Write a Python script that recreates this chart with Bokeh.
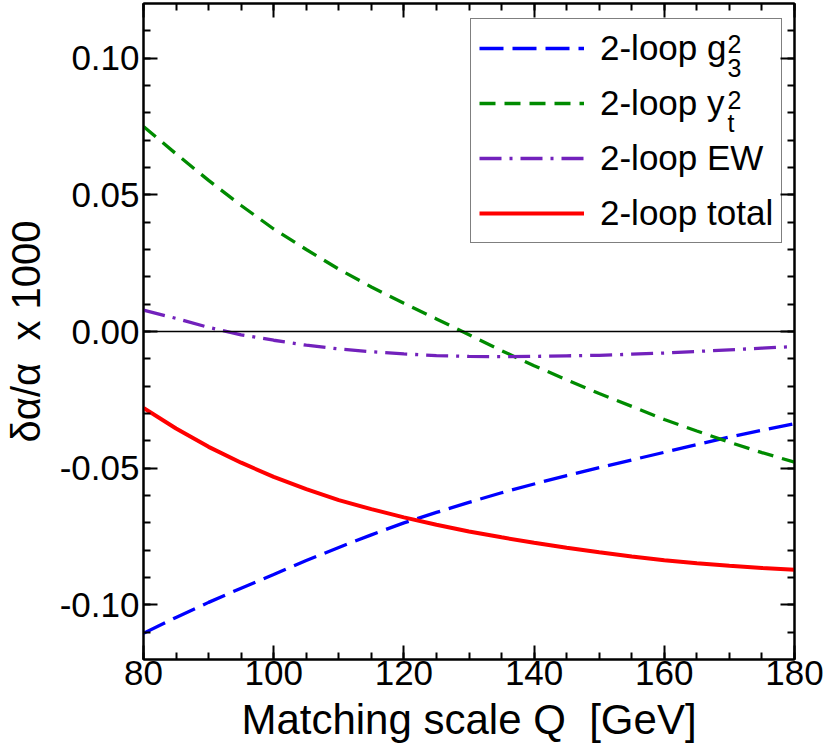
from bokeh.plotting import figure
from bokeh.models import (Range1d, LinearAxis, SingleIntervalTicker, NumeralTickFormatter,
                          CustomJSTickFormatter, Span, Legend, LegendItem, Label)
from bokeh.embed import file_html
from bokeh.resources import INLINE

# ---- data ----
Q = [80, 85, 90, 95, 100, 105, 110, 115, 120, 125, 130,
     135, 140, 145, 150, 155, 160, 165, 170, 175, 180]
g3_sq = [-0.1104, -0.1046, -0.0991, -0.0939, -0.0889, -0.0838, -0.0790, -0.0744, -0.0700, -0.0662, -0.0625,
         -0.0590, -0.0558, -0.0527, -0.0498, -0.0470, -0.0442, -0.0414, -0.0386, -0.0361, -0.0337]
yt_sq = [0.0750, 0.0650, 0.0553, 0.0461, 0.0375, 0.0300, 0.0228, 0.0163, 0.0103, 0.0046, -0.0012,
         -0.0070, -0.0125, -0.0177, -0.0227, -0.0274, -0.0322, -0.0364, -0.0405, -0.0443, -0.0478]
ew = [0.0078, 0.0048, 0.0015, -0.0012, -0.0032, -0.0050, -0.0064, -0.0074, -0.0082, -0.0088, -0.0091,
      -0.0092, -0.0091, -0.0089, -0.0087, -0.0083, -0.0079, -0.0073, -0.0067, -0.0061, -0.0055]
total = [-0.0280, -0.0355, -0.0422, -0.0480, -0.0532, -0.0577, -0.0617, -0.0650, -0.0680, -0.0707, -0.0732,
         -0.0753, -0.0773, -0.0791, -0.0808, -0.0823, -0.0837, -0.0848, -0.0857, -0.0865, -0.0872]

legend_labels = ["2-loop g", "2-loop y", "2-loop EW", "2-loop total"]
x_label = "Matching scale Q\u00a0 [GeV]"
y_label = "\u03b4\u03b1/\u03b1\u00a0 x 1000"

FONT = "Liberation Sans"

p = figure(width=830, height=752, output_backend="svg", toolbar_location=None,
           x_range=Range1d(80, 180), y_range=Range1d(-0.12, 0.12),
           min_border_left=142, min_border_right=36, min_border_top=3, min_border_bottom=93)
p.grid.visible = False
p.outline_line_color = "black"
p.outline_line_width = 2
p.background_fill_color = "white"
p.border_fill_color = "white"

xt = SingleIntervalTicker(interval=20, num_minor_ticks=4)
yt = SingleIntervalTicker(interval=0.05, num_minor_ticks=5)


def style_axis(ax, labels=True):
    ax.axis_line_width = 2
    ax.axis_line_color = "black"
    ax.major_tick_in = 14
    ax.major_tick_out = 0
    ax.minor_tick_in = 7
    ax.minor_tick_out = 0
    ax.major_tick_line_width = 2
    ax.minor_tick_line_width = 2
    ax.major_label_text_font = FONT
    ax.major_label_text_color = "black"
    if labels:
        ax.major_label_text_font_size = "35px"
    else:
        ax.formatter = CustomJSTickFormatter(code="return ''")
        ax.major_label_text_font_size = "0px"
        ax.major_label_standoff = 0


p.xaxis.ticker = xt
p.yaxis.ticker = yt
p.yaxis.formatter = NumeralTickFormatter(format="0.00")
style_axis(p.xaxis[0])
style_axis(p.yaxis[0])
p.xaxis.major_label_standoff = 1
p.yaxis.major_label_standoff = 4

p.xaxis.axis_label = x_label
p.xaxis.axis_label_text_font_size = "42px"
p.xaxis.axis_label_standoff = 8
p.yaxis.axis_label = y_label
p.yaxis.axis_label_text_font_size = "40px"
p.yaxis.axis_label_standoff = 9
for ax in (p.xaxis[0], p.yaxis[0]):
    ax.axis_label_text_font = FONT
    ax.axis_label_text_font_style = "normal"
    ax.axis_label_text_color = "black"

top_ax = LinearAxis(ticker=xt)
right_ax = LinearAxis(ticker=yt)
style_axis(top_ax, labels=False)
style_axis(right_ax, labels=False)
p.add_layout(top_ax, "above")
p.add_layout(right_ax, "right")

p.add_layout(Span(location=0, dimension="width", line_color="black", line_width=1.5))

r_g3 = p.line(Q, g3_sq, line_color="#0000ff", line_width=3.3, line_dash="24 9")
r_yt = p.line(Q, yt_sq, line_color="#008b00", line_width=3.3, line_dash="16 9")
r_ew = p.line(Q, ew, line_color="#7221bc", line_width=3.3, line_dash="22 8 3 8")
r_tot = p.line(Q, total, line_color="#ff0000", line_width=4)

legend = Legend(items=[LegendItem(label=legend_labels[0], renderers=[r_g3]),
                       LegendItem(label=legend_labels[1], renderers=[r_yt]),
                       LegendItem(label=legend_labels[2], renderers=[r_ew]),
                       LegendItem(label=legend_labels[3], renderers=[r_tot])],
                location=(327, 416), orientation="vertical",
                glyph_width=105, glyph_height=42, label_height=42,
                label_standoff=16, spacing=13, padding=8, margin=0,
                label_text_font=FONT, label_text_font_size="35px",
                label_text_color="black",
                border_line_color="black", border_line_width=1.5,
                background_fill_alpha=0.0)
p.add_layout(legend)

# superscripts / subscripts of the legend entries
small = dict(x=180, y=0.12, x_units="data", y_units="data", text_font=FONT,
             text_font_size="25px", text_color="black", text_baseline="alphabetic",
             text_align="left")
p.add_layout(Label(text="2", x_offset=-67, y_offset=-40, **small))
p.add_layout(Label(text="3", x_offset=-67, y_offset=-64, **small))
p.add_layout(Label(text="2", x_offset=-67, y_offset=-96, **small))
p.add_layout(Label(text="t", x_offset=-67, y_offset=-119, **small))

open("out.html", "w").write(file_html(p, INLINE))
